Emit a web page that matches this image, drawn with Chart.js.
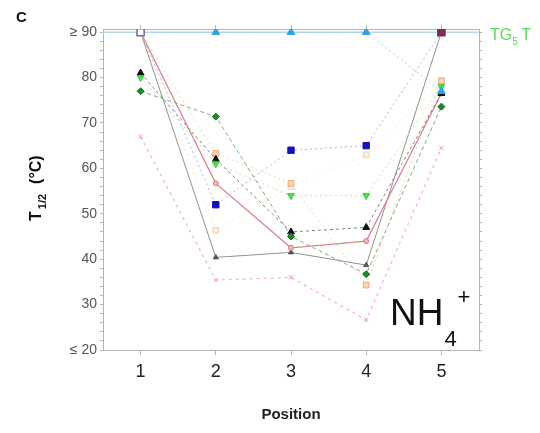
<!DOCTYPE html>
<html>
<head>
<meta charset="utf-8">
<script src="https://cdn.jsdelivr.net/npm/chart.js@4"></script>
<style>
  body { margin: 0; background: #fff; }
  #wrap { width: 540px; height: 433px; }
</style>
</head>
<body>
<div id="wrap"><canvas id="tChart" width="540" height="433"></canvas></div>
<script>
// melting temperature per position, one array per variant
const positions = [1, 2, 3, 4, 5];
const purpleT = [90, null, null, null, 90];
const cyanT = [90, 90, 90, 90, 77];
const blueT = [90, 52, 64, 65, 90];
const darkGreenT = [77, 71.4, 45, 36.7, 73.6];
const lightGreenT = [80, 61, 54, 54, 78];
const blackT = [81, 62, 46, 47, 76.5];
const redT = [90, 56.7, 42.5, 44, 76.5];
const greyT = [90, 40.4, 41.5, 38.7, 90];
const pinkT = [67, 35.4, 36, 26.6, 64.5];
const orangeT = [90, 63.3, 56.7, 34.3, 79.3];
const beigeT = [90, 46.4, 56, 63, 79];
const tg5tLevel = 90;
const xTicks = [1, 2, 3, 4, 5];

function pts(arr) {
  return positions.map((p, i) => ({ x: p, y: arr[i] })).filter(d => d.y !== null);
}

function series(arr, opt) {
  return Object.assign({
    data: pts(arr),
    borderWidth: 1,
    pointBorderWidth: 1,
    fill: false,
    tension: 0
  }, opt);
}

const datasets = [
  series(purpleT, {
    showLine: false, pointStyle: 'rect', pointRadius: 5,
    pointBackgroundColor: ['#ffffff', '#7c2a5a'],
    pointBorderColor: ['#7a6a9a', '#7c2a5a'], pointBorderWidth: 1.5
  }),
  series(cyanT, {
    borderColor: '#9fd6ec', borderDash: [2, 3], pointStyle: 'triangle', pointRadius: 4.5,
    pointBackgroundColor: '#2aa7d6', pointBorderColor: '#2aa7d6'
  }),
  series(blueT, {
    borderColor: '#b0b0f4', borderDash: [2, 3], pointStyle: 'rect', pointRadius: 4.5,
    pointBackgroundColor: '#1414b4', pointBorderColor: '#1414b4'
  }),
  series(darkGreenT, {
    borderColor: '#7aae7e', borderDash: [4, 3], pointStyle: 'rectRot', pointRadius: 3.5,
    pointBackgroundColor: '#1f8a2a', pointBorderColor: '#146a1e'
  }),
  series(lightGreenT, {
    borderColor: '#b4ecb4', borderDash: [2, 3], pointStyle: 'triangle', pointRotation: 180, pointRadius: 4,
    pointBackgroundColor: '#50e050', pointBorderColor: '#40c840'
  }),
  series(blackT, {
    borderColor: '#808080', borderDash: [3, 3], pointStyle: 'triangle', pointRadius: 4,
    pointBackgroundColor: '#111111', pointBorderColor: '#111111'
  }),
  series(redT, {
    borderColor: '#d8868c', borderWidth: 1.3, pointStyle: 'circle', pointRadius: 2.5,
    pointBackgroundColor: '#f0b8b8', pointBorderColor: '#d87880'
  }),
  series(greyT, {
    borderColor: '#909090', pointStyle: 'triangle', pointRadius: 3,
    pointBackgroundColor: '#555555', pointBorderColor: '#555555'
  }),
  series(pinkT, {
    borderColor: '#f6b0c6', borderWidth: 1.2, borderDash: [3, 4], pointStyle: 'crossRot', pointRadius: 3,
    pointBorderColor: '#f090ae'
  }),
  series(orangeT, {
    borderColor: '#f8d0ac', borderDash: [2, 3], pointStyle: 'rect', pointRadius: 4,
    pointBackgroundColor: '#fbd5b5', pointBorderColor: '#f0a878'
  }),
  series(beigeT, {
    borderColor: '#f8eac6', borderDash: [2, 3], pointStyle: 'rect', pointRadius: 4,
    pointBackgroundColor: '#fdf0dc', pointBorderColor: '#f0d4ae'
  }),
  {
    // TG5T reference level
    data: [{ x: 0.5, y: tg5tLevel }, { x: 5.5, y: tg5tLevel }],
    borderColor: '#b8d8ec', borderWidth: 1.5, pointRadius: 0, fill: false
  }
];

// labels, axis title with subscript, etc.
const textPlugin = {
  id: 'texts',
  afterDraw(chart) {
    const c = chart.ctx;
    c.save();
    c.fillStyle = '#111';
    c.textAlign = 'left';
    c.textBaseline = 'alphabetic';
    c.font = 'bold 15px "Liberation Sans", Arial, sans-serif';
    c.fillText('C', 16, 22);

    // y title, rotated
    c.save();
    c.translate(41, 221);
    c.rotate(-Math.PI / 2);
    let u = 0;
    c.font = 'bold 16px "Liberation Sans", Arial, sans-serif';
    c.fillText('T', u, 0);
    u += c.measureText('T').width + 2;
    c.font = 'bold 11px "Liberation Sans", Arial, sans-serif';
    c.fillText('1/2', u, 5);
    u += c.measureText('1/2').width + 10;
    c.font = 'bold 16px "Liberation Sans", Arial, sans-serif';
    c.fillText('(°C)', u, 0);
    c.restore();

    // TG5T
    c.fillStyle = '#5cd85c';
    c.font = '16px "Liberation Sans", Arial, sans-serif';
    c.fillText('TG', 490, 40);
    let w = c.measureText('TG').width;
    c.font = '10px "Liberation Sans", Arial, sans-serif';
    c.fillText('5', 490 + w, 45);
    c.font = '16px "Liberation Sans", Arial, sans-serif';
    c.fillText('T', 490 + w + 9, 40);

    // NH4+
    c.fillStyle = '#111';
    c.font = '37px "Liberation Sans", Arial, sans-serif';
    c.fillText('NH', 390, 325);
    w = c.measureText('NH').width;
    c.font = '22px "Liberation Sans", Arial, sans-serif';
    c.fillText('4', 390 + w + 1, 346);
    c.fillText('+', 390 + w + 14, 304);
    c.restore();
  }
};

const axisColor = '#b4b4b4';
const tickFont = { family: '"Liberation Sans", Arial, sans-serif', size: 14 };

new Chart(document.getElementById('tChart').getContext('2d'), {
  type: 'line',
  data: { datasets },
  options: {
    responsive: false,
    animation: false,
    layout: { padding: { top: 25, right: 57, bottom: 0, left: 0 } },
    plugins: { legend: { display: false }, tooltip: { enabled: false } },
    scales: {
      x: {
        type: 'linear', position: 'bottom', min: 0.5, max: 5.5,
        afterBuildTicks: s => { s.ticks = xTicks.map(v => ({ value: v })); },
        afterFit: s => { s.height = 83; },
        grid: { drawOnChartArea: false, tickLength: 5, color: axisColor },
        border: { color: axisColor },
        ticks: { color: '#222', padding: 6, font: { family: tickFont.family, size: 18 } },
        title: {
          display: true, text: 'Position', color: '#222',
          font: { family: tickFont.family, size: 15, weight: 'bold' },
          padding: { top: 0, bottom: 9 }
        }
      },
      x2: {
        type: 'linear', position: 'top', min: 0.5, max: 5.5,
        afterBuildTicks: s => { s.ticks = xTicks.map(v => ({ value: v })); },
        afterFit: s => { s.height = 4; },
        grid: { drawOnChartArea: false, tickLength: 4, color: axisColor },
        border: { color: axisColor },
        ticks: { display: false }
      },
      y: {
        type: 'linear', position: 'left', min: 20, max: 90.7,
        afterBuildTicks: s => {
          const t = [];
          for (let v = 20; v <= 90; v += 2) t.push({ value: v });
          s.ticks = t;
        },
        afterFit: s => { s.width = 103; },
        grid: { drawOnChartArea: false, tickLength: 3, color: axisColor },
        border: { color: axisColor },
        ticks: {
          color: '#555', padding: 3, font: tickFont, autoSkip: false,
          callback: v => {
            if (v % 10 !== 0) return '';
            if (v === 90) return '≥ 90';
            if (v === 20) return '≤ 20';
            return String(v);
          }
        }
      },
      y2: {
        type: 'linear', position: 'right', min: 20, max: 90.7,
        afterBuildTicks: s => {
          const t = [];
          for (let v = 20; v <= 90; v += 2) t.push({ value: v });
          s.ticks = t;
        },
        afterFit: s => { s.width = 4; },
        grid: { drawOnChartArea: false, tickLength: 3, color: axisColor },
        border: { color: axisColor },
        ticks: { display: false }
      }
    }
  },
  plugins: [textPlugin]
});
</script>
</body>
</html>
